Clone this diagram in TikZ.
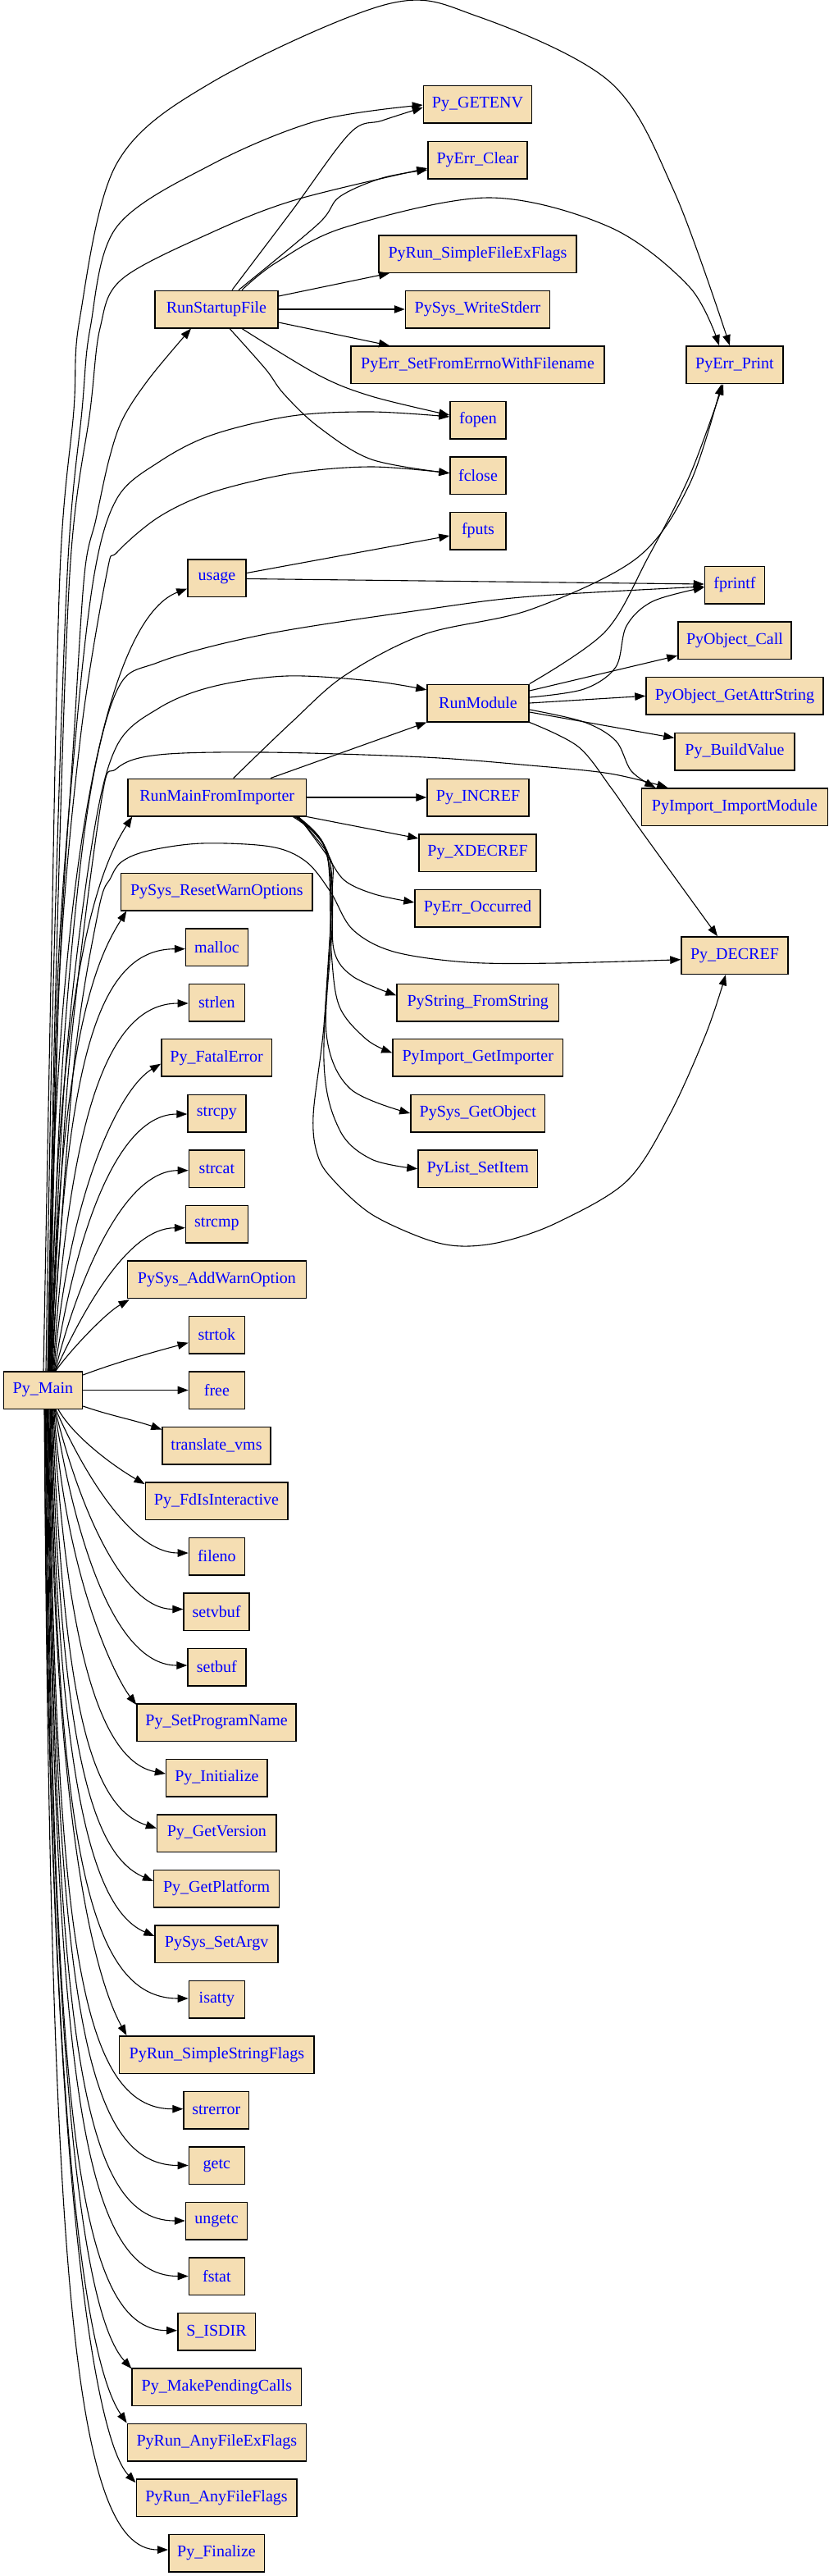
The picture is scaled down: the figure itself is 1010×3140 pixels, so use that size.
\documentclass[tikz,border=0pt]{standalone}
\usepackage{fontspec}
\setmainfont{Liberation Serif}
\usetikzlibrary{arrows.meta,calc}
\definecolor{wheat}{HTML}{F5DEB3}
\definecolor{nblue}{rgb}{0,0,1}
\begin{document}
\begin{tikzpicture}[x=1pt,y=-1pt,
  box/.style={draw=black, line width=1.5pt, fill=wheat, text=nblue, minimum height=45.5pt,
    inner xsep=2pt, inner ysep=0pt, font=\fontsize{20}{22}\selectfont},
  edge/.style={draw=black, line width=1.1pt, -{Triangle[length=13pt,width=9.5pt]}},
  sm/.style={smooth, tension=0.55}]
\useasboundingbox (0,0) rectangle (1010,3140);
% ---------- nodes ----------
\node[box,minimum width=96pt] (pm) at (52.4,1694.5) {Py\_Main};
% column 1
\node[box,minimum width=150pt] (rsf) at (264,377) {RunStartupFile};
\node[box,minimum width=71pt] (usage) at (264.5,704.5) {usage};
\node[box,minimum width=217.5pt] (rmfi) at (264.7,972) {RunMainFromImporter};
\node[box,minimum width=233.6pt] (psrwo) at (264.4,1087) {PySys\_ResetWarnOptions};
\node[box,minimum width=75.7pt] (malloc) at (264.4,1154.7) {malloc};
\node[box,minimum width=68pt] (strlen) at (264.4,1222) {strlen};
\node[box,minimum width=134.6pt] (pfe) at (264.1,1289.3) {Py\_FatalError};
\node[box,minimum width=70.7pt] (strcpy) at (264.4,1357) {strcpy};
\node[box,minimum width=68pt] (strcat) at (264.4,1424.7) {strcat};
\node[box,minimum width=75.7pt] (strcmp) at (264.4,1492) {strcmp};
\node[box,minimum width=218pt] (psawo) at (264.4,1559.7) {PySys\_AddWarnOption};
\node[box,minimum width=68pt] (strtok) at (264.4,1627) {strtok};
\node[box,minimum width=68pt] (free) at (264.4,1694.5) {free};
\node[box,minimum width=132pt] (tvms) at (264,1762) {translate\_vms};
\node[box,minimum width=173.5pt] (pfii) at (264,1829.5) {Py\_FdIsInteractive};
\node[box,minimum width=68pt] (fileno) at (264.4,1897) {fileno};
\node[box,minimum width=80pt] (setvbuf) at (264.1,1964.5) {setvbuf};
\node[box,minimum width=70.7pt] (setbuf) at (264.4,2032) {setbuf};
\node[box,minimum width=194pt] (pspn) at (264.1,2099.5) {Py\_SetProgramName};
\node[box,minimum width=123.6pt] (pinit) at (264.4,2167) {Py\_Initialize};
\node[box,minimum width=145.6pt] (pgv) at (264.4,2234.5) {Py\_GetVersion};
\node[box,minimum width=152.8pt] (pgp) at (264.1,2302) {Py\_GetPlatform};
\node[box,minimum width=150pt] (pssa) at (264.1,2369.5) {PySys\_SetArgv};
\node[box,minimum width=68pt] (isatty) at (264.4,2437) {isatty};
\node[box,minimum width=237.5pt] (prssf) at (264.4,2504.5) {PyRun\_SimpleStringFlags};
\node[box,minimum width=79.6pt] (strerror) at (263.8,2572) {strerror};
\node[box,minimum width=68pt] (getc) at (264.4,2639.5) {getc};
\node[box,minimum width=75pt] (ungetc) at (264,2707) {ungetc};
\node[box,minimum width=68pt] (fstat) at (264.4,2774.5) {fstat};
\node[box,minimum width=94.5pt] (sisdir) at (264,2842) {S\_ISDIR};
\node[box,minimum width=206.5pt] (pmpc) at (264.4,2909.7) {Py\_MakePendingCalls};
\node[box,minimum width=218pt] (prafef) at (264.4,2977) {PyRun\_AnyFileExFlags};
\node[box,minimum width=195.5pt] (praff) at (264,3044.7) {PyRun\_AnyFileFlags};
\node[box,minimum width=116.5pt] (pfin) at (264,3112) {Py\_Finalize};
% column 2
\node[box,minimum width=132pt] (pge) at (582.5,127) {Py\_GETENV};
\node[box,minimum width=121pt] (pec) at (582.5,195) {PyErr\_Clear};
\node[box,minimum width=241pt] (prsfef) at (582.5,309.5) {PyRun\_SimpleFileExFlags};
\node[box,minimum width=176pt] (psws) at (582.5,377) {PySys\_WriteStderr};
\node[box,minimum width=309pt] (pesfe) at (582.5,444.7) {PyErr\_SetFromErrnoWithFilename};
\node[box,minimum width=68pt] (fopen) at (583,512) {fopen};
\node[box,minimum width=68pt] (fclose) at (583,579.7) {fclose};
\node[box,minimum width=68pt] (fputs) at (583,647) {fputs};
\node[box,minimum width=124pt] (rm) at (583,857) {RunModule};
\node[box,minimum width=124pt] (pincref) at (583,972) {Py\_INCREF};
\node[box,minimum width=143pt] (pxdecref) at (582.5,1039.5) {Py\_XDECREF};
\node[box,minimum width=153pt] (peo) at (582.5,1107) {PyErr\_Occurred};
\node[box,minimum width=197.5pt] (psfs) at (582.7,1222) {PyString\_FromString};
\node[box,minimum width=207.7pt] (pigi) at (582.8,1289.3) {PyImport\_GetImporter};
\node[box,minimum width=163.7pt] (psgo) at (582.8,1357) {PySys\_GetObject};
\node[box,minimum width=145.7pt] (plsi) at (582.8,1424.7) {PyList\_SetItem};
% column 3
\node[box,minimum width=118pt] (pep) at (896,444.7) {PyErr\_Print};
\node[box,minimum width=73pt] (fprintf) at (896,713) {fprintf};
\node[box,minimum width=138pt] (poc) at (896,780.7) {PyObject\_Call};
\node[box,minimum width=216pt] (pogas) at (896,848.3) {PyObject\_GetAttrString};
\node[box,minimum width=146pt] (pbv) at (896,916) {Py\_BuildValue};
\node[box,minimum width=227pt] (piim) at (896,983.5) {PyImport\_ImportModule};
\node[box,minimum width=130pt] (pdecref) at (896,1164.7) {Py\_DECREF};
% ---------- Py_Main -> column 1, upward ----------
\draw[edge] ($(pm.north east)+(0,5)$) .. controls +(40,-15) and +(-45,12) .. ($(strtok.west)+(0,9.7)$);
\draw[edge] ($(pm.north)+(15.6,0)$) .. controls +(15,-22) and +(-30,17) .. ($(psawo.south west)+(3,1)$);
\draw[edge] ($(pm.north)+(15,0)$) .. controls +(33,-72) and +(-70,0) .. ($(strcmp.west)+(0,4.7)$);
\draw[edge] ($(pm.north)+(14.7,0)$) .. controls +(29,-115) and +(-78,0) .. ($(strcat.west)+(0,2)$);
\draw[edge] ($(pm.north)+(13.9,0)$) .. controls +(25.5,-166) and +(-86,0) .. ($(strcpy.west)+(0,1)$);
\draw[edge] ($(pm.north)+(13.2,0)$) .. controls +(18,-219) and +(-50,30) .. ($(pfe.west)+(0,7.4)$);
\draw[edge] ($(pm.north)+(12.3,0)$) .. controls +(19,-291) and +(-104,0) .. ($(strlen.west)+(0,1)$);
\draw[edge] ($(pm.north)+(11.5,0)$) .. controls +(16,-365) and +(-111,0) .. ($(malloc.west)+(0,2)$);
\draw[edge] ($(pm.north)+(11,0)$) .. controls +(8,-421) and +(-31,50) .. ($(psrwo.south west)+(7.4,0)$);
\draw[edge] ($(pm.north)+(9.6,0)$) .. controls +(5,-508) and +(-32,50) .. ($(rmfi.south west)+(6,0)$);
\draw[edge] ($(pm.north)+(6.3,0)$) .. controls +(8,-715) and +(-80,30) .. ($(usage.west)+(0,13)$);
\draw[edge] plot[sm] coordinates {($(pm.north)+(8,0)$) (72,1200) (90,900) (103,700) (117,633) (133,560) (150,510) (183,460) ($(rsf.south)+(-31,0)$)};
% ---------- Py_Main -> column 1, downward ----------
\draw[edge] (pm.east) -- (free.west);
\draw[edge] ($(pm.south east)+(0,-4)$) .. controls +(35,12) and +(-35,-12) .. ($(tvms.north west)+(0,4)$);
\draw[edge] ($(pm.south)+(18.6,0)$) .. controls +(20,35) and +(-35,-20) .. ($(pfii.north west)+(0,3)$);
\draw[edge] ($(pm.south)+(15.6,0)$) .. controls +(32,73) and +(-70,0) .. ($(fileno.west)+(0,-4)$);
\draw[edge] ($(pm.south)+(14.7,0)$) .. controls +(28,114) and +(-75,0) .. ($(setvbuf.west)+(0,-3)$);
\draw[edge] ($(pm.south)+(13.9,0)$) .. controls +(26,165) and +(-87,0) .. ($(setbuf.west)+(0,-2)$);
\draw[edge] ($(pm.south)+(13.3,0)$) .. controls +(14,206) and +(-25,-32) .. ($(pspn.north west)+(0,2)$);
\draw[edge] ($(pm.south)+(12.3,0)$) .. controls +(16,287) and +(-80,-15) .. ($(pinit.west)+(0,-5)$);
\draw[edge] ($(pm.south)+(11.5,0)$) .. controls +(13,360) and +(-80,-25) .. ($(pgv.west)+(0,-6)$);
\draw[edge] ($(pm.south)+(10.8,0)$) .. controls +(10,432) and +(-70,-30) .. ($(pgp.west)+(0,-9)$);
\draw[edge] ($(pm.south)+(10,0)$) .. controls +(7.5,482) and +(-70,-30) .. ($(pssa.west)+(0,-9.5)$);
\draw[edge] ($(pm.south)+(9.1,0)$) .. controls +(8.4,539) and +(-120,0) .. ($(isatty.west)+(0,-1)$);
\draw[edge] ($(pm.south)+(8.6,0)$) .. controls +(5,573) and +(-25,-45) .. ($(prssf.north west)+(9.5,0)$);
\draw[edge] ($(pm.south)+(7.5,0)$) .. controls +(8,640) and +(-127,0) .. ($(strerror.west)+(0,-1.3)$);
\draw[edge] ($(pm.south)+(6.6,0)$) .. controls +(8.5,691) and +(-133,0) .. (getc.west);
\draw[edge] ($(pm.south)+(5.9,0)$) .. controls +(8.4,742) and +(-131,0) .. (ungetc.west);
\draw[edge] ($(pm.south)+(5.1,0)$) .. controls +(8.6,792) and +(-134,0) .. (fstat.west);
\draw[edge] ($(pm.south)+(4.3,0)$) .. controls +(8,842) and +(-125,0) .. ($(sisdir.west)+(0,-1.3)$);
\draw[edge] ($(pm.south)+(3.7,0)$) .. controls +(5,878) and +(-53,-58) .. ($(pmpc.north west)+(0,1)$);
\draw[edge] ($(pm.south)+(3,0)$) .. controls +(4,928) and +(-45,-65) .. (prafef.north west);
\draw[edge] ($(pm.south)+(2.1,0)$) .. controls +(3.5,883) and +(-55,-57) .. ($(praff.north west)+(0,5)$);
\draw[edge] ($(pm.south)+(1.6,0)$) .. controls +(7.5,1043) and +(-117,0) .. ($(pfin.west)+(0,-4)$);
% ---------- Py_Main -> far nodes ----------
\draw[edge] plot[sm] coordinates {($(pm.north)+(3.6,0)$) (65,1200) (82,700) (100,500) (110,400) (142,277) (259,200) (388,147) ($(pge.west)+(0,1)$)};
\draw[edge] plot[sm] coordinates {($(pm.north)+(5.6,0)$) (68,1200) (85,700) (110,500) (122,400) (149,340) (259,283) (362.5,243) ($(pec.west)+(0,10)$)};
\draw[edge] plot[sm] coordinates {($(pm.north)+(0.6,0)$) (62,1200) (73,700) (90,500) (97,390) (142,200) (259,100) (472.5,5) (582.5,20) (744,100) (822,233) ($(pep.north)+(-6,0)$)};
\draw[edge] plot[sm] coordinates {($(pm.north)+(7,0)$) (70,1200) (92,900) (115,700) (143,607) (194,563) (259,530) (356,507) (453,502) ($(fopen.west)+(0,-4)$)};
\draw[edge] plot[sm] coordinates {($(pm.north)+(7.6,0)$) (72,1200) (98,900) (130,700) (143,673) (194,630) (259,600) (356,577) (453,569) ($(fclose.west)+(0,-3)$)};
\draw[edge] plot[sm] coordinates {($(pm.north)+(8.2,0)$) (76,1300) (105,1000) (142,843) (194,807) (324,773) (518,743) (647,727) ($(fprintf.west)+(0,2)$)};
\draw[edge] plot[sm] coordinates {($(pm.north)+(8.8,0)$) (80,1300) (112,1030) (142,910) (194,863) (259,837) (349.5,824) (453,830) ($(rm.north west)+(0,7.4)$)};
\draw[edge] plot[sm] coordinates {($(pm.north)+(9.4,0)$) (84,1300) (123,980) (142,937) (194,920) (324,917) (518,923) (647,933) (744,943) ($(piim.north west)+(32.5,0)$)};
\draw[edge] plot[sm] coordinates {($(pm.north)+(10,0)$) (90,1300) (120,1110) (135,1070) (149,1050) (181,1037) (246,1028) (330,1032) (373,1050) (403,1087) (430,1133) (480,1160) (570,1173) (680,1174) ($(pdecref.west)+(0,5)$)};
% ---------- RunStartupFile ----------
\draw[edge] plot[sm] coordinates {($(rsf.north)+(19,0)$) (356,257) (427,162) (466,147) ($(pge.west)+(0,4)$)};
\draw[edge] plot[sm] coordinates {($(rsf.north)+(27,0)$) (388,273) (414,240) (466,217) ($(pec.west)+(0,12)$)};
\draw[edge] plot[sm] coordinates {($(rsf.north)+(31,0)$) (337,320) (421,277) (596,241) (744,277) (841,350) ($(pep.north)+(-19,0)$)};
\draw[edge] ($(rsf.east)+(0,-16)$) -- ($(prsfef.south west)+(13.7,0)$);
\draw[edge] (rsf.east) -- (psws.west);
\draw[edge] ($(rsf.east)+(0,16)$) -- ($(pesfe.north west)+(47.7,0)$);
\draw[edge] plot[sm] coordinates {($(rsf.south)+(31,0)$) (388,457) (453,483) ($(fopen.west)+(0,-6)$)};
\draw[edge] plot[sm] coordinates {($(rsf.south)+(16,0)$) (324,450) (346,480) (388,520) (453,560) ($(fclose.west)+(0,-3)$)};
% ---------- usage ----------
\draw[edge] ($(usage.east)+(0,-6)$) -- ($(fputs.west)+(0,6)$);
\draw[edge] ($(usage.east)+(0,1)$) -- ($(fprintf.west)+(0,-1)$);
% ---------- RunMainFromImporter ----------
\draw[edge] ($(rmfi.north)+(65.3,0)$) -- (rm.south west);
\draw[edge] plot[sm] coordinates {($(rmfi.north)+(20,0)$) (356,880) (421,823) (518,773) (647,743) (777,680) (841,590) ($(pep.south)+(-16,0)$)};
\draw[edge] (rmfi.east) -- (pincref.west);
\draw[edge] (rmfi.south east) -- ($(pxdecref.north west)+(0,6)$);
\draw[edge] plot[sm] coordinates {($(rmfi.south east)+(-10,0)$) (397,1040) (420,1073) (457,1090) ($(peo.west)+(0,-7)$)};
\draw[edge] plot[sm] coordinates {($(rmfi.south east)+(-17,0)$) (392,1025) (405,1080) (407,1157) (430,1190) ($(psfs.west)+(0,-8.7)$)};
\draw[edge] plot[sm] coordinates {($(rmfi.south east)+(-15,0)$) (398,1037) (404,1160) (414,1227) (447,1267) ($(pigi.west)+(0,-6)$)};
\draw[edge] plot[sm] coordinates {($(rmfi.south east)+(-13,0)$) (400,1040) (405,1127) (398,1260) (427,1327) (psgo.west)};
\draw[edge] plot[sm] coordinates {($(rmfi.south east)+(-12,0)$) (402,1045) (405,1093) (395,1293) (414,1377) (453,1413) (plsi.west)};
\draw[edge] plot[sm] coordinates {($(rmfi.south east)+(-11,0)$) (395,1030) (404,1100) (395,1250) (382,1360) (388,1410) (408,1440) (453,1480) (518,1510) (563,1519) (615,1513) (680,1490) (764,1440) (816,1360) (861,1260) ($(pdecref.south)+(-11,0)$)};
% ---------- RunModule ----------
\draw[edge] plot[sm] coordinates {(rm.north east) (738,770) (790,680) (841,580) ($(pep.south)+(-14,0)$)};
\draw[edge] plot[sm] coordinates {($(rm.east)+(0,-7)$) (712,840) (751,813) (764,763) (796,733) ($(fprintf.west)+(0,3)$)};
\draw[edge] ($(rm.east)+(0,-15)$) -- ($(poc.south west)+(0,-5)$);
\draw[edge] (rm.east) -- (pogas.west);
\draw[edge] ($(rm.east)+(0,11)$) -- ($(pbv.north west)+(0,7)$);
\draw[edge] plot[sm] coordinates {($(rm.east)+(0,8)$) (712,880) (751,903) (770,940) ($(piim.north west)+(17.5,0)$)};
\draw[edge] plot[sm] coordinates {(rm.south east) (705,910) (745,960) (780,1010) ($(pdecref.north)+(-21,0)$)};
\end{tikzpicture}
\end{document}
